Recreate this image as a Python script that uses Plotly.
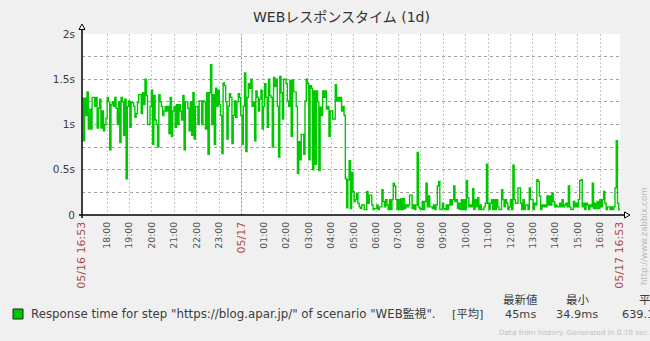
import pandas as pd
import plotly.graph_objects as go

# Response time samples (seconds), 05/16 16:53 -> 05/17 16:53
seg_evening = [
    1.29, 0.82, 1.29, 1.10, 1.36, 0.95, 1.17, 0.95, 1.30, 1.30,
    1.20, 1.30, 0.96, 1.18, 1.28, 0.96, 1.15, 0.93, 1.00, 1.07,
    1.30, 1.25, 0.72, 1.22, 1.25, 1.20, 1.30, 1.18, 1.00, 1.25,
    0.80, 1.30, 1.25, 0.88, 1.28, 0.40, 1.20, 1.26, 0.97, 1.25,
    1.24, 1.20, 1.08, 1.12, 1.24, 1.33, 1.33, 1.12, 1.35, 1.22,
    1.50, 1.32, 1.00, 1.00, 1.20, 1.38, 0.78, 1.32, 1.05, 1.00,
    0.75, 1.33, 1.25, 1.20, 1.10, 1.15, 1.20, 1.15, 1.20, 0.90,
    1.30, 0.87, 1.15, 1.20, 0.97, 1.22, 1.00, 1.22, 1.15, 1.05,
    1.32, 0.72, 1.25, 1.25, 1.18, 0.93, 1.25, 0.88, 1.35, 0.84,
    1.20, 1.20, 1.00, 1.26, 1.26, 1.00, 1.26, 1.25, 0.95, 1.35,
    0.67, 1.35, 1.66, 1.00, 1.33, 0.78, 1.40, 1.20, 1.38,
]
seg_night = [
    1.22, 1.10, 0.68, 1.46, 1.43, 1.25, 0.84, 1.20, 1.34, 1.30,
    0.79, 1.10, 1.26, 1.08, 1.25, 1.34, 1.30, 1.10, 0.78, 1.20,
    1.57, 0.70, 1.30, 1.45, 1.40, 1.50, 1.20, 1.25, 0.82, 1.37,
    1.30, 1.15, 1.28, 1.38, 0.95, 1.20, 1.45, 1.30, 0.97, 1.50,
    1.32, 1.30, 0.75, 1.52, 1.42, 1.50, 1.20, 0.64, 1.53, 1.35,
    1.06, 1.50, 1.50, 1.45, 1.26, 1.20, 1.49, 0.87, 1.49, 1.36,
    1.36, 1.20, 0.46, 0.81, 0.61, 0.89, 0.89, 0.67, 1.26, 1.50,
    1.45, 0.61, 1.43, 1.40, 0.50, 1.37, 0.56, 1.37, 1.25, 0.49,
    1.19, 1.10, 1.37, 1.30, 1.37, 1.17, 1.20, 0.87, 1.15, 1.15,
    1.06, 1.06, 1.44, 1.26, 1.30, 1.26, 1.30, 1.15, 1.20, 1.10,
    0.40, 0.08, 0.39, 0.60, 0.07, 0.47, 0.26, 0.15,
]
seg_morning = [
    0.17, 0.24, 0.13, 0.09, 0.07, 0.11, 0.11, 0.06, 0.06, 0.26,
    0.13, 0.22, 0.22, 0.11, 0.06, 0.07, 0.07, 0.11, 0.06, 0.09,
    0.09, 0.28, 0.15, 0.09, 0.17, 0.11, 0.06, 0.17, 0.06, 0.17,
    0.35, 0.32, 0.17, 0.06, 0.17, 0.06, 0.18, 0.06, 0.18, 0.07,
    0.11, 0.09, 0.11, 0.22, 0.22, 0.07, 0.11, 0.06, 0.11, 0.69,
    0.09, 0.07, 0.06, 0.15, 0.06, 0.15, 0.35, 0.09, 0.21, 0.09,
    0.09, 0.07, 0.11, 0.06, 0.11, 0.32, 0.37, 0.06, 0.06, 0.13,
    0.07, 0.06, 0.11, 0.06, 0.11, 0.17, 0.11, 0.17, 0.32, 0.15,
    0.17, 0.07, 0.13, 0.06, 0.17, 0.06, 0.17, 0.06, 0.38, 0.19,
    0.09, 0.11, 0.09, 0.29, 0.06, 0.17, 0.09, 0.19, 0.06, 0.11,
    0.06, 0.06, 0.09, 0.13,
]
seg_afternoon = [
    0.56, 0.13, 0.06, 0.13, 0.17, 0.06, 0.17, 0.06, 0.17, 0.09,
    0.06, 0.06, 0.28, 0.17, 0.09, 0.17, 0.13, 0.06, 0.09, 0.17,
    0.06, 0.55, 0.17, 0.13, 0.13, 0.30, 0.30, 0.13, 0.06, 0.17,
    0.06, 0.11, 0.11, 0.06, 0.30, 0.17, 0.17, 0.06, 0.13, 0.11,
    0.39, 0.37, 0.21, 0.06, 0.11, 0.09, 0.11, 0.09, 0.21, 0.11,
    0.21, 0.11, 0.24, 0.15, 0.09, 0.11, 0.09, 0.09, 0.13, 0.09,
    0.17, 0.09, 0.11, 0.13, 0.09, 0.32, 0.09, 0.06, 0.06, 0.15,
    0.09, 0.13, 0.09, 0.17, 0.38, 0.39, 0.09, 0.13, 0.06, 0.13,
    0.11, 0.06, 0.11, 0.09, 0.35, 0.07, 0.13, 0.07, 0.15, 0.07,
    0.17, 0.09, 0.17, 0.26, 0.13, 0.06, 0.09, 0.09, 0.06, 0.09,
    0.06, 0.09, 0.30, 0.82, 0.13, 0.06, 0.045,
]
values = seg_evening + seg_night + seg_morning + seg_afternoon

start = pd.Timestamp("2018-05-16 16:53")
end = pd.Timestamp("2018-05-17 16:53")
times = pd.date_range(start, end, periods=len(values))

# Axis labels
y_tickvals = [0, 0.25, 0.5, 0.75, 1.0, 1.25, 1.5, 1.75, 2.0]
y_ticktext = ["0", "", "0.5s", "", "1s", "", "1.5s", "", "2s"]
hours = list(pd.date_range("2018-05-16 18:00", "2018-05-17 16:00", freq="h"))

RED = "#b04848"
GRAY = "#3c3c3c"


def red(s):
    return f"<span style='color:{RED};font-size:11px'>{s}</span>"


x_tickvals = [start] + hours + [end]
x_ticktext = [red("05/16 16:53")]
for h in hours:
    x_ticktext.append(red("05/17") if h.hour == 0 else h.strftime("%H:%M"))
x_ticktext.append(red("05/17 16:53"))

legend_name = 'Response time for step "https://blog.apar.jp/" of scenario "WEB監視".'
legend_func = "[平均]"
stat_headers = ["最新値", "最小", "平均"]
stat_values = ["45ms", "34.9ms", "639.1ms"]

FONT = "DejaVu Sans, Noto Sans CJK JP, sans-serif"
W, H = 650, 341
L, R, T, B = 82, 620, 34, 215


def px(xp):
    return (xp - L) / (R - L)


def py(yp):
    return (B - yp) / (B - T)


fig = go.Figure()
fig.add_trace(go.Scatter(
    x=times, y=values, mode="lines",
    line=dict(color="rgb(0,200,0)", width=1.4, shape="hv"),
    showlegend=False, hoverinfo="skip",
))

fig.update_layout(
    width=W, height=H,
    margin=dict(l=L, r=W - R, t=T, b=H - B, pad=0),
    paper_bgcolor="#f0f0f0", plot_bgcolor="#ffffff",
    font=dict(family=FONT, size=10, color=GRAY),
    showlegend=False,
    xaxis=dict(
        range=[start, end], tickmode="array", tickvals=x_tickvals, ticktext=x_ticktext,
        tickangle=-90, tickfont=dict(size=9.3, color="#555555"),
        showgrid=True, gridcolor="#c4c4c4", griddash="2px,2px", gridwidth=1,
        showline=False, zeroline=False, ticks="", ticklabelstandoff=4, automargin=False,
    ),
    yaxis=dict(
        range=[0, 2], tickmode="array", tickvals=y_tickvals, ticktext=y_ticktext,
        tickfont=dict(size=10.5, color=GRAY),
        showgrid=True, gridcolor="#a0a0a0", griddash="3px,3px", gridwidth=1,
        showline=False, zeroline=False, ticks="", ticklabelstandoff=6, automargin=False,
    ),
)

shapes = []
# midnight line is drawn a little darker
shapes.append(dict(type="line", xref="x", yref="paper",
                   x0=pd.Timestamp("2018-05-17 00:00"), x1=pd.Timestamp("2018-05-17 00:00"),
                   y0=0, y1=1, line=dict(color="#a0a0a0", width=1, dash="2px,2px")))
# axes with arrow heads
shapes.append(dict(type="line", xref="paper", yref="paper",
                   x0=px(L), x1=px(L), y0=py(B + 3), y1=py(29),
                   line=dict(color="black", width=1.5)))
shapes.append(dict(type="line", xref="paper", yref="paper",
                   x0=px(L - 3), x1=px(625), y0=py(B), y1=py(B),
                   line=dict(color="black", width=1.5)))
shapes.append(dict(type="path", xref="paper", yref="paper",
                   path=f"M {px(79)} {py(29.5)} L {px(85)} {py(29.5)} L {px(82)} {py(24)} Z",
                   line=dict(color="black", width=1), fillcolor="white"))
shapes.append(dict(type="path", xref="paper", yref="paper",
                   path=f"M {px(624.5)} {py(212)} L {px(624.5)} {py(218)} L {px(630)} {py(215)} Z",
                   line=dict(color="black", width=1), fillcolor="white"))
# legend colour box
shapes.append(dict(type="rect", xref="paper", yref="paper",
                   x0=px(13), x1=px(23), y0=py(309), y1=py(319),
                   line=dict(color="#222222", width=1), fillcolor="rgb(0,200,0)"))
fig.update_layout(shapes=shapes)

ann = []
ann.append(dict(text="WEBレスポンスタイム (1d)", x=px(341), y=py(17), xref="paper", yref="paper",
                showarrow=False, font=dict(size=14, color="#333333"),
                xanchor="center", yanchor="middle"))
ann.append(dict(text="http://www.zabbix.com", x=px(644), y=py(236), xref="paper", yref="paper",
                showarrow=False, textangle=-90, font=dict(size=8.5, color="#b8b8b8"),
                xanchor="center", yanchor="middle"))
ann.append(dict(text=legend_name, x=px(29), y=py(314), xref="paper", yref="paper",
                showarrow=False, font=dict(size=11.8, color=GRAY),
                xanchor="left", yanchor="middle"))
ann.append(dict(text=legend_func, x=px(467), y=py(314), xref="paper", yref="paper",
                showarrow=False, font=dict(size=11.3, color=GRAY),
                xanchor="center", yanchor="middle"))
header_x = [520, 578, 637]
header_anchor = ["center", "center", "left"]
value_x = [538, 600, 620]
for hx, ha, htxt in zip(header_x, header_anchor, stat_headers):
    ann.append(dict(text=htxt, x=px(hx), y=py(300), xref="paper", yref="paper",
                    showarrow=False, font=dict(size=11.5, color=GRAY),
                    xanchor=ha, yanchor="middle"))
for i, (vx, vtxt) in enumerate(zip(value_x, stat_values)):
    ann.append(dict(text=vtxt, x=px(vx), y=py(314), xref="paper", yref="paper",
                    showarrow=False, font=dict(size=11.3, color=GRAY),
                    xanchor="right" if i < 2 else "left", yanchor="middle"))
ann.append(dict(text="Data from history. Generated in 0.10 sec.", x=px(497), y=py(332),
                xref="paper", yref="paper", showarrow=False,
                font=dict(size=7.3, color="#c0c0c0"), xanchor="left", yanchor="middle"))
fig.update_layout(annotations=ann)

fig.write_html("out.html")
